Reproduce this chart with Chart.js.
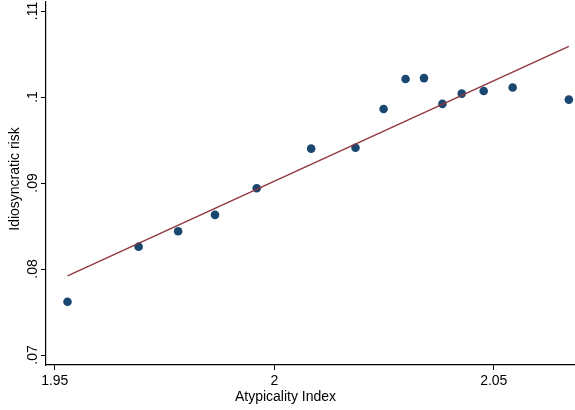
<!DOCTYPE html>
<html>
<head>
<meta charset="utf-8">
<script src="https://cdn.jsdelivr.net/npm/chart.js@4/dist/chart.umd.min.js"></script>
<style>
html,body{margin:0;padding:0;background:#fff;}
#wrap{width:575px;height:410px;position:relative;}
</style>
</head>
<body>
<div id="wrap"><canvas id="c" width="575" height="410"></canvas></div>
<script>
// Data
const atypicality = [1.9529, 1.9691, 1.9781, 1.9865, 1.9960, 2.0084, 2.0185, 2.0249, 2.0299, 2.0341, 2.0383, 2.0427, 2.0477, 2.0543, 2.0671];
const idioRisk    = [0.0762, 0.0826, 0.0844, 0.0863, 0.0894, 0.0940, 0.0941, 0.0986, 0.1021, 0.1022, 0.0992, 0.1004, 0.1007, 0.1011, 0.0997];
const fitX = [1.9529, 2.0671];
const fitY = [0.0792, 0.1059];
const xTickValues = [1.95, 2, 2.05];
const xTickLabels = ["1.95", "2", "2.05"];
const yTickValues = [0.07, 0.08, 0.09, 0.10, 0.11];
const yTickLabels = [".07", ".08", ".09", ".1", ".11"];
const xTitle = "Atypicality Index";
const yTitle = "Idiosyncratic risk";

const FONT = "'Liberation Sans', Arial, Helvetica, sans-serif";

const scatterPts = atypicality.map((x, i) => ({x: x, y: idioRisk[i]}));
const fitPts = fitX.map((x, i) => ({x: x, y: fitY[i]}));

const customText = {
  id: 'customText',
  afterDraw(chart) {
    const ctx = chart.ctx;
    const ys = chart.scales.y;
    ctx.save();
    ctx.fillStyle = '#000';
    ctx.font = '14px ' + FONT;
    ctx.textAlign = 'center';
    ctx.textBaseline = 'middle';
    yTickValues.forEach((v, i) => {
      const py = ys.getPixelForValue(v);
      ctx.save();
      ctx.translate(33, py);
      ctx.rotate(-Math.PI / 2);
      ctx.fillText(yTickLabels[i], 0, 0);
      ctx.restore();
    });
    ctx.save();
    ctx.translate(15, 179);
    ctx.rotate(-Math.PI / 2);
    ctx.fillText(yTitle, 0, 0);
    ctx.restore();
    ctx.fillText(xTitle, 285.5, 397);
    ctx.restore();
  }
};

new Chart(document.getElementById('c'), {
  type: 'scatter',
  data: {
    datasets: [
      {
        type: 'line',
        data: fitPts,
        borderColor: '#90353b',
        borderWidth: 1.3,
        pointRadius: 0,
        fill: false,
        tension: 0,
        order: 0
      },
      {
        type: 'scatter',
        data: scatterPts,
        backgroundColor: '#1a476f',
        borderColor: '#1a476f',
        borderWidth: 0,
        pointRadius: 4.3,
        order: 1
      }
    ]
  },
  plugins: [customText],
  options: {
    responsive: false,
    animation: false,
    devicePixelRatio: 1,
    layout: {autoPadding: false, padding: {top: 2, right: 0, left: 0, bottom: 0}},
    plugins: {legend: {display: false}, tooltip: {enabled: false}},
    scales: {
      x: {
        type: 'linear',
        min: 1.948,
        max: 2.0685,
        afterBuildTicks(scale) { scale.ticks = xTickValues.map(v => ({value: v})); },
        afterFit(scale) { scale.height = 45; scale.paddingLeft = 0; scale.paddingRight = 0; },
        ticks: {
          callback(v) { const i = xTickValues.indexOf(v); return i >= 0 ? xTickLabels[i] : ''; },
          color: '#000',
          font: {family: FONT, size: 14},
          padding: 3,
          maxRotation: 0,
          minRotation: 0
        },
        grid: {drawOnChartArea: false, drawTicks: true, tickLength: 5, color: '#000', lineWidth: 1},
        border: {display: true, color: '#000', width: 1.2}
      },
      y: {
        type: 'linear',
        min: 0.06884,
        max: 0.11105,
        afterBuildTicks(scale) { scale.ticks = yTickValues.map(v => ({value: v})); },
        afterFit(scale) { scale.width = 46; scale.paddingTop = 0; scale.paddingBottom = 0; },
        ticks: {
          callback() { return ''; },
          color: 'rgba(0,0,0,0)',
          font: {family: FONT, size: 1}
        },
        grid: {drawOnChartArea: false, drawTicks: true, tickLength: 5, color: '#000', lineWidth: 1},
        border: {display: true, color: '#000', width: 1.2}
      }
    }
  }
});
</script>
</body>
</html>
